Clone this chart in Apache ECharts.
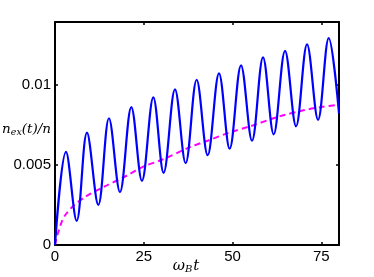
<!DOCTYPE html>
<html>
<head>
<meta charset="utf-8">
<script src="https://cdn.jsdelivr.net/npm/echarts@6/dist/echarts.min.js"></script>
<style>
html,body{margin:0;padding:0;background:#fff;}
#chart{width:374px;height:277px;}
</style>
</head>
<body>
<div id="chart"></div>
<script>
// Blue oscillating curve: time (omega_B t) and n_ex(t)/n at extrema
var tBlue = [0, 3.1, 6.1, 9.0, 12.2, 15.2, 18.3, 21.5, 24.5, 27.7, 30.6, 33.8, 36.8, 39.9, 43.0, 46.2, 49.2, 52.4, 55.5, 58.6, 61.6, 64.8, 67.9, 71.0, 74.1, 77.1, 80];
var vBlue = [0, 0.0058, 0.0015, 0.0070, 0.0025, 0.0079, 0.0033, 0.0086, 0.0040, 0.0092, 0.0045, 0.0097, 0.0051, 0.0103, 0.0056, 0.0107, 0.0060, 0.0112, 0.0065, 0.0117, 0.0069, 0.0121, 0.0074, 0.0125, 0.0078, 0.0129, 0.0082];
// Magenta dashed curve
var tDash = [0, 0.5, 1, 2, 3, 5, 8.5, 14, 20, 25, 30, 38, 43, 49, 55, 63, 70, 75, 80];
var vDash = [0, 0.0005, 0.00085, 0.0015, 0.0019, 0.0024, 0.0030, 0.00365, 0.0043, 0.0049, 0.0053, 0.0061, 0.0065, 0.0070, 0.0074, 0.0080, 0.0084, 0.0086, 0.00875];
var xTicks = [0, 25, 50, 75];
var yTicks = [0, 0.005, 0.01];

function pairs(a, b) { return a.map(function (v, i) { return [v, b[i]]; }); }

var chart = echarts.init(document.getElementById('chart'), null, {renderer: 'canvas'});
var axisLine = {show: true, onZero: false, lineStyle: {color: '#000', width: 2}};
var ticks = {show: true, inside: true, length: 3, lineStyle: {color: '#000', width: 1.5}};
var lblFont = {color: '#000', fontSize: 15, fontFamily: 'Liberation Sans, Arial, sans-serif'};

chart.setOption({
  animation: false,
  backgroundColor: '#fff',
  grid: {left: 55, right: 35, top: 22, bottom: 32, containLabel: false, outerBoundsMode: 'none'},
  xAxis: [{
    type: 'value', min: 0, max: 80, interval: 25, position: 'bottom',
    axisLine: axisLine, axisTick: ticks, splitLine: {show: false},
    axisLabel: Object.assign({margin: 4, showMaxLabel: false,
      formatter: function (v) { return xTicks.indexOf(v) >= 0 ? String(v) : ''; }}, lblFont),
    name: '{w|ω}{s|B}{w|t}', nameLocation: 'middle', nameGap: 13, nameMoveOverlap: false,
    nameTextStyle: {padding: [0, 22, 0, 0], rich: {
      w: {fontFamily: 'DejaVu Serif, serif', fontStyle: 'italic', fontSize: 15, color: '#000'},
      s: {fontFamily: 'DejaVu Serif, serif', fontStyle: 'italic', fontSize: 10, color: '#000', padding: [6, 1, 0, 0]}
    }}
  }, {
    type: 'value', min: 0, max: 80, interval: 25, position: 'top',
    axisLine: axisLine, axisTick: ticks, axisLabel: {show: false}, splitLine: {show: false}
  }],
  yAxis: [{
    type: 'value', min: 0, max: 0.0139, interval: 0.005, position: 'left',
    axisLine: axisLine, axisTick: ticks, splitLine: {show: false},
    axisLabel: Object.assign({margin: 4, showMaxLabel: false,
      formatter: function (v) { return yTicks.indexOf(v) >= 0 ? String(v) : ''; }}, lblFont),
    name: '{n|n}{s|ex}{n|(t)/n}', nameLocation: 'middle', nameGap: 4, nameRotate: 0, nameMoveOverlap: false,
    nameTextStyle: {align: 'right', padding: [0, 0, 8, 0], rich: {
      n: {fontFamily: 'DejaVu Serif, serif', fontStyle: 'italic', fontSize: 13.5, color: '#000'},
      s: {fontFamily: 'DejaVu Serif, serif', fontStyle: 'italic', fontSize: 9.5, color: '#000', padding: [6, 0, 0, 0]}
    }}
  }, {
    type: 'value', min: 0, max: 0.0139, interval: 0.005, position: 'right',
    axisLine: axisLine, axisTick: ticks, axisLabel: {show: false}, splitLine: {show: false}
  }],
  series: [{
    type: 'line', data: pairs(tDash, vDash), smooth: 0.3, showSymbol: false,
    lineStyle: {color: '#ff00ff', width: 2, type: [6, 4]}, z: 2
  }, {
    type: 'line', data: pairs(tBlue, vBlue), smooth: 0.36, showSymbol: false,
    lineStyle: {color: '#0000ff', width: 2.2}, z: 3
  }]
});
</script>
</body>
</html>
